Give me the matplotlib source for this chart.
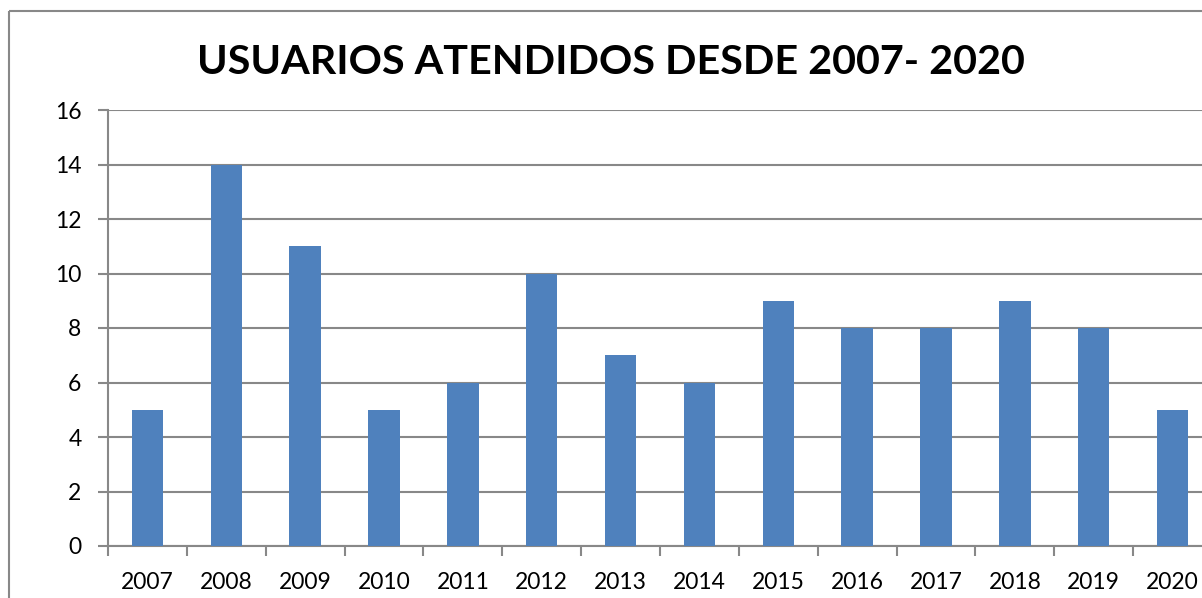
import matplotlib
matplotlib.use("Agg")
import matplotlib.pyplot as plt
from matplotlib.patches import Rectangle
import numpy as np

years = ["2007", "2008", "2009", "2010", "2011", "2012", "2013",
         "2014", "2015", "2016", "2017", "2018", "2019", "2020"]
usuarios = [5, 14, 11, 5, 6, 10, 7, 6, 9, 8, 8, 9, 8, 5]
y_ticks = [0, 2, 4, 6, 8, 10, 12, 14, 16]
title = "USUARIOS ATENDIDOS DESDE 2007- 2020"

W, H = 1202, 598
fig = plt.figure(figsize=(W / 100, H / 100), dpi=100)
plt.rcParams['font.family'] = ['Lato', 'DejaVu Sans']

# outer chart frame
fig.patches.append(Rectangle((9 / W, 1 - 11 / H), 2, -2, transform=fig.transFigure,
                             fill=False, edgecolor="#888888", linewidth=1.5))

ax = fig.add_axes([108 / W, 52 / H, (1212 - 108) / W, (546 - 110) / H])
x = np.arange(len(years))
ax.bar(x, usuarios, width=0.4, color="#4F81BD", zorder=3)
ax.set_xlim(-0.5, len(years) - 0.5)
ax.set_ylim(0, 16)
ax.set_yticks(y_ticks)
ax.set_yticklabels([str(v) for v in y_ticks], fontsize=16.5)
ax.set_xticks(x)
ax.set_xticklabels(years, fontsize=16.5)
ax.set_xticks(np.arange(len(years) + 1) - 0.5, minor=True)
ax.tick_params(axis="x", which="major", length=0, pad=19)
ax.tick_params(axis="x", which="minor", length=7, color="#888888", width=1.5)
ax.tick_params(axis="y", length=7, color="#888888", width=1.5, pad=12)
ax.grid(axis="y", color="#888888", linewidth=1.5, zorder=0)
for s in ["top", "right"]:
    ax.spines[s].set_visible(False)
for s in ["left", "bottom"]:
    ax.spines[s].set_color("#888888")
    ax.spines[s].set_linewidth(1.5)

fig.text(611 / W, 1 - 62 / H, title, ha="center", va="center",
         fontsize=29.7, fontweight="bold")

fig.savefig("out.png", dpi=100)
